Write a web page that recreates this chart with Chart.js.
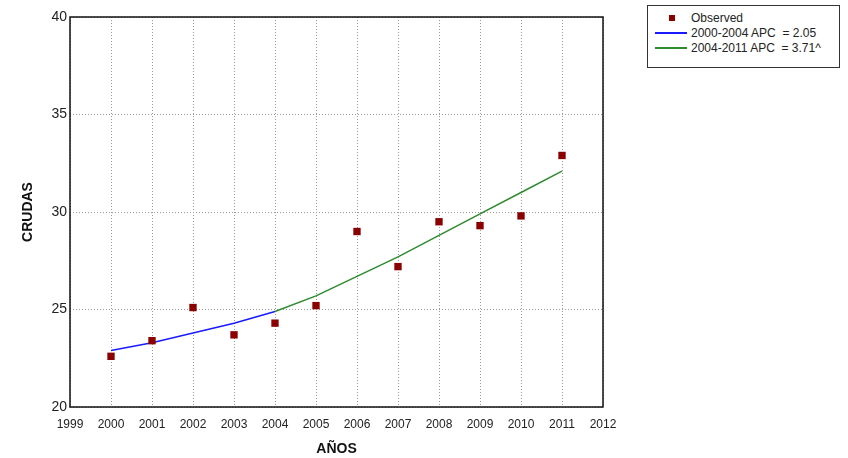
<!DOCTYPE html>
<html>
<head>
<meta charset="utf-8">
<script src="https://cdn.jsdelivr.net/npm/chart.js@4"></script>
<style>
  body { margin: 0; background: #fff; }
  #wrap { position: relative; width: 848px; height: 458px; }
  #legend {
    position: absolute; left: 647px; top: 5px; width: 193px; height: 63px;
    border: 1px solid #333; box-sizing: border-box; background: #fff;
    font-family: "Liberation Sans", Arial, sans-serif; font-size: 12px; color: #222;
  }
  #legend .row { position: absolute; left: 0; height: 14px; line-height: 14px; }
  #legend .sym { position: absolute; }
  #legend .txt { position: absolute; left: 43px; white-space: pre; }
</style>
</head>
<body>
<div id="wrap">
  <canvas id="chart" width="848" height="458"></canvas>
  <div id="legend"></div>
</div>
<script>
// Years and observed rates
const years = [2000, 2001, 2002, 2003, 2004, 2005, 2006, 2007, 2008, 2009, 2010, 2011];
const observed = [22.6, 23.4, 25.1, 23.7, 24.3, 25.2, 29.0, 27.2, 29.5, 29.3, 29.8, 32.9];

// Joinpoint segments (modelled values)
const seg1Years = [2000, 2001, 2002, 2003, 2004];
const seg1Values = [22.9, 23.3, 23.8, 24.3, 24.9];
const seg2Years = [2004, 2005, 2006, 2007, 2008, 2009, 2010, 2011];
const seg2Values = [24.9, 25.7, 26.7, 27.7, 28.8, 29.9, 31.0, 32.1];

const seriesLabels = ['Observed', '2000-2004 APC  = 2.05', '2004-2011 APC  = 3.71^'];

function toPoints(xs, ys) {
    return xs.map((x, i) => ({ x: x, y: ys[i] }));
}

const font = "'Liberation Sans', Arial, sans-serif";

// Border around the plot area
const frame = {
    id: 'frame',
    afterDraw(chart) {
        const a = chart.chartArea;
        const ctx = chart.ctx;
        ctx.save();
        ctx.strokeStyle = '#111';
        ctx.lineWidth = 1.5;
        ctx.strokeRect(a.left, a.top, a.right - a.left, a.bottom - a.top);
        ctx.restore();
    }
};

const ctx = document.getElementById('chart').getContext('2d');
new Chart(ctx, {
    type: 'scatter',
    data: {
        datasets: [
            {
                label: seriesLabels[0],
                data: toPoints(years, observed),
                backgroundColor: '#8b0000',
                borderColor: '#8b0000',
                pointStyle: 'rect',
                pointRadius: 5.2,
                borderWidth: 0,
                order: 0
            },
            {
                label: seriesLabels[1],
                data: toPoints(seg1Years, seg1Values),
                showLine: true,
                borderColor: '#1a1aff',
                borderWidth: 1.5,
                pointRadius: 0,
                order: 1
            },
            {
                label: seriesLabels[2],
                data: toPoints(seg2Years, seg2Values),
                showLine: true,
                borderColor: '#2e8b2e',
                borderWidth: 1.5,
                pointRadius: 0,
                order: 1
            }
        ]
    },
    options: {
        responsive: false,
        animation: false,
        layout: { padding: { top: 17, right: 245, left: 0, bottom: 0 } },
        plugins: { legend: { display: false }, tooltip: { enabled: false } },
        scales: {
            x: {
                type: 'linear',
                min: 1999, max: 2012,
                afterFit(scale) { scale.height = 51; },
                ticks: {
                    stepSize: 1,
                    color: '#222',
                    padding: 10,
                    font: { family: font, size: 12 },
                    callback: v => String(v)
                },
                grid: { color: '#999', borderDash: [1, 2], drawTicks: false },
                border: { display: false, dash: [1, 2] },
                title: {
                    display: true, text: 'AÑOS', color: '#111',
                    font: { family: font, size: 14, weight: 'bold' },
                    padding: { top: 6, bottom: 0 }
                }
            },
            y: {
                min: 20, max: 40,
                afterFit(scale) { scale.width = 70; },
                ticks: {
                    stepSize: 5,
                    color: '#222',
                    padding: 3,
                    font: { family: font, size: 14 }
                },
                grid: { color: '#999', drawTicks: false },
                border: { display: false, dash: [1, 2] },
                title: {
                    display: true, text: 'CRUDAS', color: '#111',
                    font: { family: font, size: 14, weight: 'bold' },
                    padding: { top: 20, bottom: 0 }
                }
            }
        }
    },
    plugins: [frame]
});

// HTML legend built from the series labels
const legend = document.getElementById('legend');
const symbols = [
    '<div class="sym" style="left:21px;top:4px;width:6px;height:6px;background:#8b0000"></div>',
    '<div class="sym" style="left:7px;top:6px;width:32px;height:2px;background:#1a1aff"></div>',
    '<div class="sym" style="left:7px;top:6px;width:32px;height:2px;background:#2e8b2e"></div>'
];
seriesLabels.forEach((lab, i) => {
    const row = document.createElement('div');
    row.className = 'row';
    row.style.top = (5 + i * 15) + 'px';
    row.style.width = '190px';
    row.innerHTML = symbols[i] + '<span class="txt">' + lab + '</span>';
    legend.appendChild(row);
});
</script>
</body>
</html>
